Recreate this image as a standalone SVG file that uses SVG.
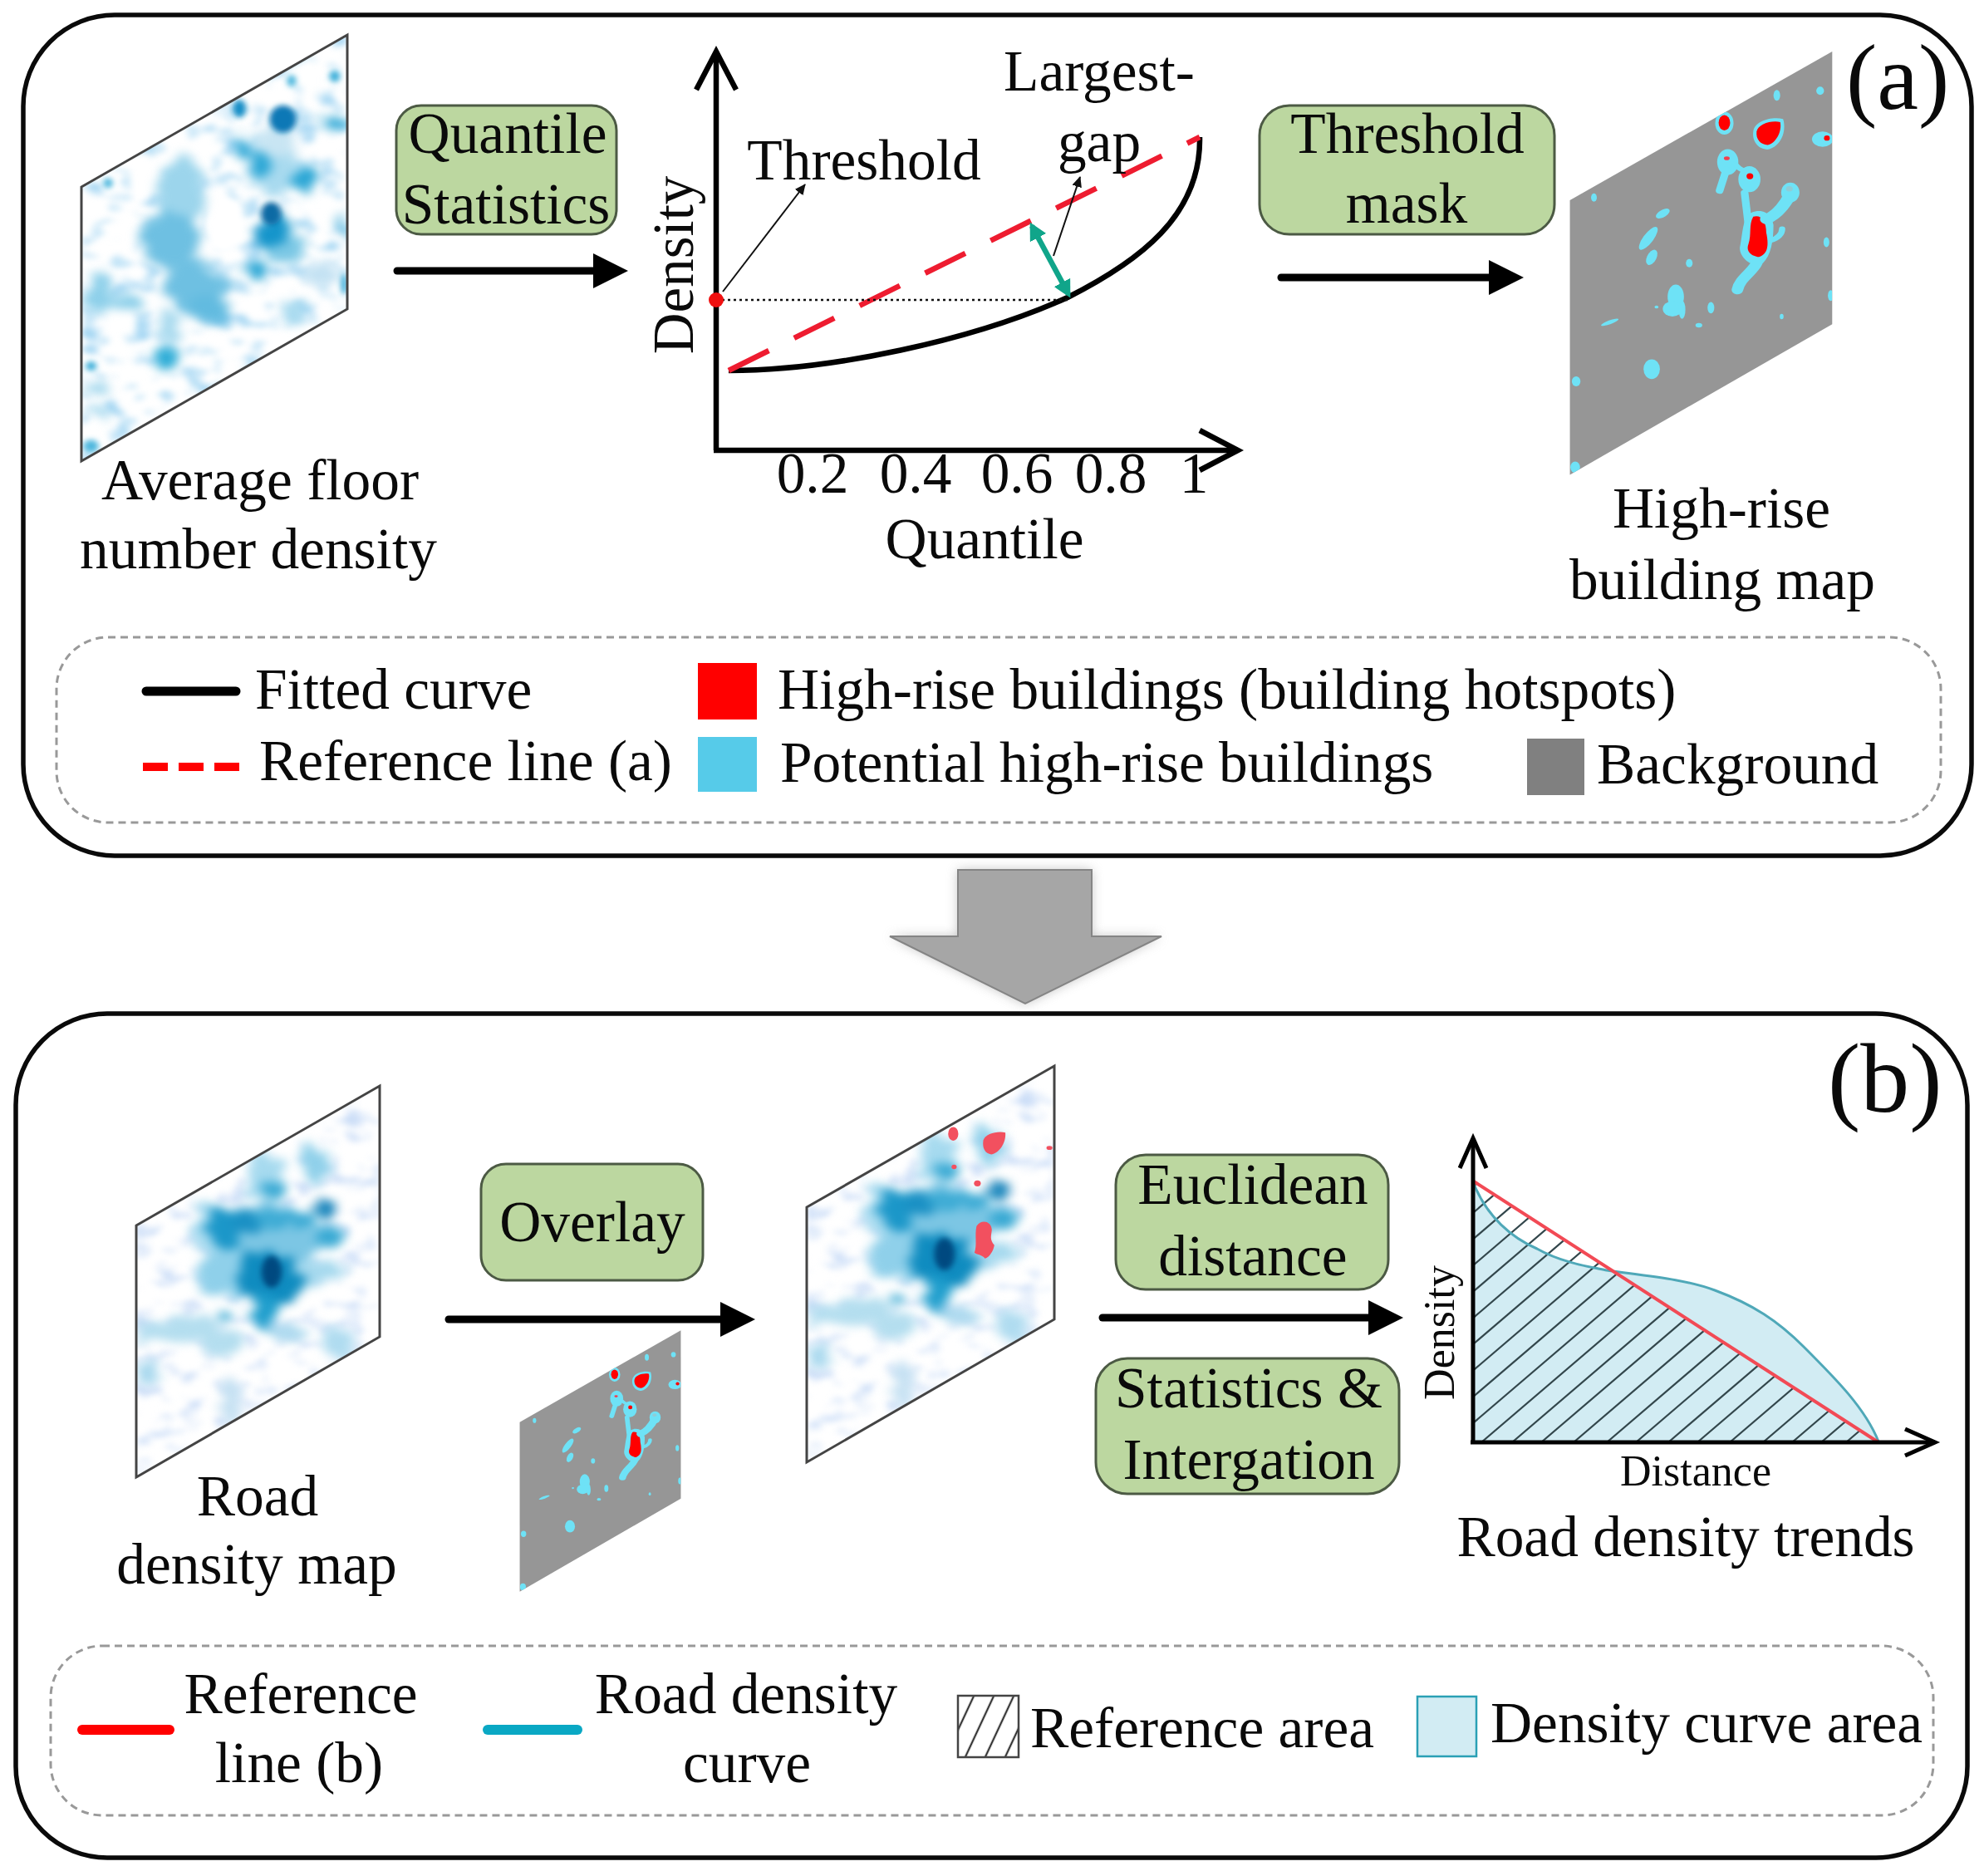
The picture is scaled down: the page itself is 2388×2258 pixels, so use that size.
<svg xmlns="http://www.w3.org/2000/svg" width="2388" height="2258" viewBox="0 0 2388 2258">
<style>
text{font-family:"Liberation Serif","Times New Roman",serif;font-size:69.4px;fill:#0a0a0a}
.m{text-anchor:middle}
.panel{fill:#fff;stroke:#0a0a0a;stroke-width:5.5}
.dash{fill:none;stroke:#999;stroke-width:3;stroke-dasharray:9 6}
.box{fill:#bcd7a0;stroke:#4c5a44;stroke-width:3}
.frame{fill:none;stroke:#444;stroke-width:3}
.flow{stroke:#000;stroke-width:9;stroke-linecap:round;fill:none;marker-end:url(#head)}
.axis{stroke:#000;stroke-width:6.5;fill:none}
.thin{stroke:#111;stroke-width:2;fill:none;marker-end:url(#thinhead)}
.cy{fill:#6ee2f6}.rd{fill:#f00}
.cys{stroke:#6ee2f6;fill:none;stroke-linecap:round}
</style>
<defs>
<filter id="b1" x="-15%" y="-15%" width="130%" height="130%" color-interpolation-filters="sRGB"><feTurbulence type="fractalNoise" baseFrequency=".022 .03" numOctaves="2" seed="7" result="n"/><feDisplacementMap in="SourceGraphic" in2="n" scale="60" xChannelSelector="R" yChannelSelector="G"/><feGaussianBlur stdDeviation="13"/></filter>
<filter id="b2" x="-30%" y="-30%" width="160%" height="160%"><feGaussianBlur stdDeviation="7"/></filter>
<filter id="mot1" x="0" y="0" width="100%" height="100%" color-interpolation-filters="sRGB"><feTurbulence type="fractalNoise" baseFrequency=".016 .022" numOctaves="2" seed="4"/><feColorMatrix values="0 0 0 0 .62  0 0 0 0 .83  0 0 0 0 .95  3.2 0 0 0 -1.62"/><feGaussianBlur stdDeviation="7"/></filter>
<filter id="mot2" x="0" y="0" width="100%" height="100%" color-interpolation-filters="sRGB"><feTurbulence type="fractalNoise" baseFrequency=".018 .024" numOctaves="2" seed="11"/><feColorMatrix values="0 0 0 0 .80  0 0 0 0 .87  0 0 0 0 .97  3 0 0 0 -1.5"/><feGaussianBlur stdDeviation="7"/></filter>
<filter id="soft" x="-30%" y="-30%" width="160%" height="160%"><feGaussianBlur stdDeviation="22"/></filter>
<marker id="head" markerUnits="userSpaceOnUse" markerWidth="44" markerHeight="44" refX="0" refY="21" orient="auto"><path d="M0 0L42 21L0 42z" fill="#000"/></marker>
<marker id="thinhead" markerUnits="userSpaceOnUse" markerWidth="16" markerHeight="16" refX="12" refY="6" orient="auto"><path d="M0 0L13 6L0 12z" fill="#111"/></marker>
<marker id="teal" markerUnits="userSpaceOnUse" markerWidth="26" markerHeight="26" refX="16" refY="11" orient="auto-start-reverse"><path d="M0 0L21 11L0 22z" fill="#10a58a"/></marker>
<marker id="openv" markerUnits="userSpaceOnUse" markerWidth="60" markerHeight="60" refX="48" refY="28" orient="auto"><path d="M2 4L48 28L2 52" fill="none" stroke="#000" stroke-width="6.5"/></marker>
<marker id="openb" markerUnits="userSpaceOnUse" markerWidth="50" markerHeight="40" refX="38" refY="18" orient="auto"><path d="M2 2L38 18L2 34" fill="none" stroke="#000" stroke-width="5"/></marker>
<pattern id="hatch" patternUnits="userSpaceOnUse" width="24" height="36" patternTransform="skewX(-25)"><path d="M12 0V36" stroke="#333" stroke-width="2.5"/></pattern>
<clipPath id="cm1"><polygon points="192,490 820,92 820,810 192,1208"/></clipPath>
<clipPath id="cr"><polygon points="125,468 700,103 700,760 125,1128"/></clipPath>
<clipPath id="chr"><polygon points="707,525 1252,135 1252,850 707,1245"/></clipPath>
<clipPath id="ctri"><polygon points="1774,1422 2261,1736 1774,1736"/></clipPath>
<g id="roadblobs" clip-path="url(#cr)">
<rect x="125" y="103" width="575" height="1025" filter="url(#mot2)"/>
<ellipse cx="640" cy="960" rx="90" ry="160" fill="#fff" filter="url(#soft)" />
<g filter="url(#b1)">
<ellipse cx="430" cy="500" rx="135" ry="90" fill="#7cc6e4"/>
<ellipse cx="340" cy="600" rx="72" ry="68" fill="#8fd0ea"/>
<ellipse cx="300" cy="480" rx="38" ry="70" fill="#a6daef"/>
<ellipse cx="540" cy="590" rx="88" ry="34" fill="#a6d9ee"/>
<ellipse cx="550" cy="310" rx="30" ry="48" fill="#8fd0ea"/>
<ellipse cx="430" cy="340" rx="48" ry="58" fill="#a6daef"/>
<ellipse cx="240" cy="740" rx="95" ry="34" fill="#b4deef"/>
<ellipse cx="330" cy="770" rx="50" ry="36" fill="#b4deef"/>
<ellipse cx="155" cy="860" rx="28" ry="34" fill="#a8d8ee"/>
<ellipse cx="600" cy="770" rx="40" ry="44" fill="#b0dcf0"/>
<ellipse cx="350" cy="930" rx="24" ry="58" fill="#c4e0f2"/>
<ellipse cx="480" cy="750" rx="44" ry="24" fill="#aedaef"/>
<ellipse cx="145" cy="750" rx="22" ry="26" fill="#b0dcef"/>
<ellipse cx="440" cy="610" rx="80" ry="72" fill="#0f8cc0" transform="rotate(35 440 610)"/>
<ellipse cx="430" cy="690" rx="32" ry="52" fill="#1f9ecd"/>
<ellipse cx="330" cy="470" rx="44" ry="52" fill="#1b97c9"/>
<ellipse cx="385" cy="465" rx="30" ry="34" fill="#1a90c4"/>
<ellipse cx="450" cy="375" rx="26" ry="30" fill="#3aaad4"/>
<ellipse cx="570" cy="425" rx="24" ry="27" fill="#1080b8"/>
<ellipse cx="580" cy="500" rx="30" ry="27" fill="#3aaad4"/>
<ellipse cx="480" cy="450" rx="80" ry="20" fill="#3aaad4"/>
<ellipse cx="335" cy="700" rx="16" ry="16" fill="#3aaad4"/>
</g><ellipse cx="445" cy="590" rx="24" ry="42" fill="#044a80" filter="url(#b2)"/></g>
<g id="hrmap">
<polygon points="707,525 1252,135 1252,850 707,1245" fill="#969696"/>
<g clip-path="url(#chr)">
<ellipse class="cy" cx="1137" cy="250" rx="7" ry="14"/><ellipse class="cy" cx="1227" cy="238" rx="8" ry="11"/>
<ellipse class="cy" cx="1028" cy="323" rx="19" ry="30"/><ellipse class="rd" cx="1028" cy="322" rx="12" ry="20"/>
<path class="cy" d="M1088 345C1090 318 1125 305 1150 312C1158 345 1145 385 1118 392C1098 392 1085 370 1088 345z"/>
<path class="rd" d="M1095 345C1098 325 1125 315 1144 320C1148 345 1135 375 1118 380C1103 380 1093 365 1095 345z"/>
<ellipse class="cy" cx="1232" cy="365" rx="22" ry="20"/><ellipse class="rd" cx="1241" cy="362" rx="6" ry="7"/>
<ellipse class="cy" cx="1035" cy="425" rx="22" ry="34"/><ellipse cx="1033" cy="415" rx="6" ry="5" fill="#f04050"/>
<path class="cys" stroke-width="16" d="M1032 445L1018 500"/>
<path class="cys" stroke-width="12" d="M1050 430C1060 445 1065 445 1080 455"/>
<ellipse class="cy" cx="1080" cy="470" rx="23" ry="34"/><ellipse class="rd" cx="1081" cy="462" rx="7" ry="8"/>
<path class="cys" stroke-width="16" d="M1070 505L1078 590"/>
<path class="cy" d="M1075 565C1095 545 1125 550 1130 590C1130 630 1125 670 1108 690C1090 705 1060 680 1060 650C1065 620 1065 590 1075 565z"/>
<path class="rd" d="M1088 568C1105 562 1115 580 1115 610C1120 640 1120 665 1100 674C1085 672 1072 660 1078 640C1085 615 1078 590 1088 568z"/>
<path class="cys" stroke-width="26" d="M1115 575C1135 565 1150 545 1165 510"/>
<ellipse class="cy" cx="1165" cy="505" rx="19" ry="26"/><ellipse cx="1163" cy="495" rx="7" ry="7" fill="#8fcdd8"/>
<path class="cys" stroke-width="13" d="M1125 630C1140 625 1148 612 1148 600"/>
<path class="cys" stroke-width="24" d="M1095 690C1085 715 1060 730 1055 760"/>
<ellipse class="cy" cx="757" cy="518" rx="6" ry="11"/>
<ellipse class="cy" cx="900" cy="560" rx="17" ry="9" transform="rotate(-40 900 560)"/>
<ellipse class="cy" cx="870" cy="625" rx="11" ry="34" transform="rotate(30 870 625)"/>
<ellipse class="cy" cx="877" cy="675" rx="10" ry="21" transform="rotate(20 877 675)"/>
<ellipse class="cy" cx="955" cy="690" rx="7" ry="11"/>
<ellipse class="cy" cx="927" cy="778" rx="17" ry="32"/><ellipse class="cy" cx="920" cy="810" rx="20" ry="20"/><ellipse class="cy" cx="940" cy="812" rx="7" ry="24"/><circle class="cy" cx="887" cy="805" r="4"/>
<ellipse class="cy" cx="1000" cy="807" rx="7" ry="15"/><ellipse class="cy" cx="975" cy="853" rx="7" ry="6"/>
<ellipse class="cy" cx="790" cy="845" rx="20" ry="5" transform="rotate(-25 790 845)"/>
<ellipse class="cy" cx="1240" cy="635" rx="6" ry="13"/><ellipse class="cy" cx="1249" cy="775" rx="6" ry="14"/>
<ellipse class="cy" cx="1147" cy="830" rx="4" ry="7"/><ellipse class="cy" cx="877" cy="968" rx="17" ry="26"/>
<ellipse class="cy" cx="720" cy="1000" rx="9" ry="13"/><ellipse class="cy" cx="718" cy="1225" rx="10" ry="15"/>
</g></g>
</defs>
<rect width="2388" height="2258" fill="#fff"/>

<g id="panel-a"><rect class="panel" x="28" y="18" width="2345" height="1012" rx="110"/><text x="2222" y="131" style="font-size:112px">(a)</text></g>
<g id="panel-b"><rect class="panel" x="19" y="1220" width="2349" height="1016" rx="110"/><text x="2200" y="1338" style="font-size:118px">(b)</text></g>

<g id="big-arrow">
<polygon points="1153,1047 1314,1047 1314,1127 1398,1127 1234,1208 1071,1127 1153,1127" fill="#999" opacity=".6" filter="url(#b2)"/>
<polygon points="1153,1047 1314,1047 1314,1127 1398,1127 1234,1208 1071,1127 1153,1127" fill="#a6a6a6" stroke="#858585" stroke-width="2"/>
</g>

<g id="floor-map">
<g transform="scale(.51,.459)"><g clip-path="url(#cm1)">
<rect x="192" y="92" width="628" height="1116" filter="url(#mot1)"/>
<ellipse cx="530" cy="590" rx="45" ry="70" fill="#fff" filter="url(#b2)"/>
<g filter="url(#b1)">
<ellipse cx="430" cy="500" rx="58" ry="85" fill="#9cd5ec"/>
<ellipse cx="400" cy="630" rx="72" ry="72" fill="#6ec0e2"/>
<ellipse cx="460" cy="750" rx="78" ry="62" fill="#6ec0e2"/>
<ellipse cx="500" cy="810" rx="48" ry="38" fill="#62bbe0"/>
<ellipse cx="640" cy="440" rx="62" ry="72" fill="#a8daef"/>
<ellipse cx="230" cy="770" rx="34" ry="44" fill="#8ed0ea"/>
<ellipse cx="290" cy="800" rx="42" ry="18" fill="#8ed0ea"/>
<ellipse cx="400" cy="860" rx="24" ry="48" fill="#a6d9ee"/>
<ellipse cx="670" cy="640" rx="55" ry="48" fill="#7cc8e5"/>
<ellipse cx="690" cy="820" rx="34" ry="34" fill="#a8daef"/>
<ellipse cx="760" cy="720" rx="42" ry="32" fill="#c4e2f3"/>
<ellipse cx="650" cy="370" rx="52" ry="42" fill="#c8e5f3"/>
<ellipse cx="230" cy="1020" rx="34" ry="14" fill="#a6d9ee"/>
<ellipse cx="240" cy="1075" rx="30" ry="19" fill="#9ad4ec"/>
<ellipse cx="790" cy="325" rx="34" ry="20" fill="#2aa6d5"/>
<ellipse cx="810" cy="595" rx="11" ry="30" fill="#6ec0e2"/>
<ellipse cx="600" cy="705" rx="20" ry="26" fill="#2aa6d5"/>
<ellipse cx="390" cy="935" rx="26" ry="36" fill="#2fadd7"/>
<ellipse cx="572" cy="385" rx="22" ry="32" fill="#2aa6d5"/>
<ellipse cx="622" cy="430" rx="24" ry="28" fill="#2aa6d5"/>
<ellipse cx="720" cy="470" rx="27" ry="38" fill="#2aa6d5"/>
<ellipse cx="645" cy="610" rx="36" ry="44" fill="#1595cb"/>
</g>
<g filter="url(#b2)">
<ellipse cx="215" cy="960" rx="13" ry="13" fill="#3fb0da"/>
<ellipse cx="215" cy="1170" rx="18" ry="17" fill="#4fb8de"/>
<ellipse cx="255" cy="480" rx="11" ry="14" fill="#4fb8de"/>
<ellipse cx="688" cy="212" rx="11" ry="16" fill="#4fb8de"/>
<ellipse cx="790" cy="200" rx="13" ry="16" fill="#3fb0da"/>
<ellipse cx="812" cy="745" rx="7" ry="28" fill="#2aa6d5"/>
<ellipse cx="565" cy="285" rx="16" ry="24" fill="#168fc7"/>
<ellipse cx="640" cy="560" rx="24" ry="30" fill="#0a6aa4"/>
<ellipse cx="668" cy="312" rx="32" ry="36" fill="#0a78b6"/>
</g>
</g></g>
<polygon class="frame" points="98,225 418,42 418,372 98,555"/>
<text class="m" x="313" y="601">Average floor</text>
<text class="m" x="311" y="684">number density</text>
</g>

<g id="quantile-box"><rect class="box" x="477" y="127" width="265" height="155" rx="30"/>
<text class="m" x="611" y="184">Quantile</text><text class="m" x="609" y="269">Statistics</text></g>

<g id="quantile-chart">
<path d="M877 446C1000 446 1170 410 1285 358C1370 315 1446 260 1444 165" fill="none" stroke="#000" stroke-width="6.5"/>
<path d="M877 446L1444 165" fill="none" stroke="#ee1c30" stroke-width="6.5" stroke-dasharray="54 34"/>
<path d="M862 361H1285" stroke="#111" stroke-width="2.5" stroke-dasharray="3 4"/>
<path class="axis" d="M862 542V62" marker-end="url(#openv)"/>
<path class="axis" d="M859 542H1490" marker-end="url(#openv)"/>
<circle cx="862" cy="361" r="9" fill="#f01010"/>
<path d="M1242 272L1286 354" stroke="#10a58a" stroke-width="6.5" fill="none" marker-start="url(#teal)" marker-end="url(#teal)"/>
<text class="m" x="1040" y="216">Threshold</text>
<text class="m" x="1323" y="109">Largest-</text>
<text class="m" x="1323" y="194">gap</text>
<text class="m" transform="translate(834 319) rotate(-90)" style="font-size:69px">Density</text>
<text class="m" x="978" y="593">0.2</text><text class="m" x="1102" y="593">0.4</text><text class="m" x="1224" y="593">0.6</text><text class="m" x="1337" y="593">0.8</text><text class="m" x="1437" y="593">1</text>
<text class="m" x="1185" y="672">Quantile</text>
</g>

<g id="threshold-box"><rect class="box" x="1516" y="127" width="355" height="155" rx="36"/>
<text class="m" x="1694" y="184">Threshold</text><text class="m" x="1693" y="268">mask</text></g>

<g id="highrise-map">
<use href="#hrmap" transform="translate(1480,0) scale(.5793,.459)"/>
<text class="m" x="2072" y="635">High-rise</text>
<text class="m" x="2073" y="721">building map</text>
</g>

<g id="legend-a">
<rect class="dash" x="68" y="767" width="2268" height="223" rx="62"/>
<path d="M176 832H284" stroke="#000" stroke-width="11" stroke-linecap="round"/>
<path d="M172 923H288" stroke="#f00" stroke-width="10" stroke-dasharray="30 13"/>
<rect x="840" y="798" width="71" height="68" fill="#f00"/>
<rect x="840" y="887" width="71" height="66" fill="#56cbe9"/>
<rect x="1838" y="889" width="69" height="68" fill="#808080"/>
<text x="307" y="853">Fitted curve</text>
<text x="312" y="939">Reference line (a)</text>
<text x="936" y="853">High-rise buildings (building hotspots)</text>
<text x="939" y="941">Potential high-rise buildings</text>
<text x="1922" y="943">Background</text>
</g>

<g id="road-map">
<use href="#roadblobs" transform="translate(100,1260) scale(.51,.459)"/>
<polygon class="frame" points="164,1475 457,1307 457,1609 164,1778"/>
<text class="m" x="310" y="1824">Road</text>
<text class="m" x="309" y="1906">density map</text>
</g>

<g id="overlay-box"><rect class="box" x="579" y="1401" width="267" height="140" rx="30"/><text class="m" x="713" y="1494">Overlay</text></g>

<g id="mini-map"><use href="#hrmap" transform="translate(374,1563) scale(.3558,.2833)"/></g>

<g id="overlay-map">
<use href="#roadblobs" transform="translate(906.8,1235.4) scale(.517,.4645)"/>
<g transform="translate(900,1260) scale(.51,.459)" fill="#f2505f">
<ellipse cx="485" cy="228" rx="12" ry="18"/>
<path d="M556 245C560 228 590 220 608 225C610 250 595 278 575 282C560 280 553 265 556 245z"/>
<circle cx="487" cy="315" r="6"/><circle cx="542" cy="358" r="8"/><ellipse cx="712" cy="265" rx="7" ry="5"/>
<path d="M540 470C550 452 575 455 576 480C575 495 570 505 582 520C580 535 570 552 560 555C552 545 540 545 535 540C542 520 535 495 540 470z"/>
</g>
<polygon class="frame" points="971,1453 1269,1283 1269,1588 971,1760"/>
</g>

<g id="euclid-box"><rect class="box" x="1343" y="1390" width="328" height="162" rx="36"/>
<text class="m" x="1508" y="1449">Euclidean</text><text class="m" x="1508" y="1535">distance</text></g>
<g id="stats-box"><rect class="box" x="1319" y="1635" width="365" height="163" rx="38"/>
<text class="m" x="1503" y="1694">Statistics &amp;</text><text class="m" x="1503" y="1780">Intergation</text></g>

<g id="road-chart">
<path d="M1774 1425C1790 1465 1820 1490 1850 1503C1880 1520 1915 1525 1934 1529C1985 1536 2030 1540 2064 1553C2110 1570 2140 1590 2171 1621C2210 1660 2245 1695 2261 1735H1774z" fill="#d2ecf3"/>
<g clip-path="url(#ctri)"><path d="M1413 1736l400 -342M1450 1736l400 -342M1487 1736l400 -342M1524 1736l400 -342M1561 1736l400 -342M1598 1736l400 -342M1635 1736l400 -342M1672 1736l400 -342M1709 1736l400 -342M1746 1736l400 -342M1783 1736l400 -342M1820 1736l400 -342M1855 1736l400 -342M1894 1736l400 -342M1934 1736l400 -342M1969 1736l400 -342M2008 1736l400 -342M2043 1736l400 -342M2082 1736l400 -342M2122 1736l400 -342M2157 1736l400 -342M2192 1736l400 -342M2222 1736l400 -342" stroke="#33474c" stroke-width="2.2" fill="none"/></g>
<path d="M1774 1425C1790 1465 1820 1490 1850 1503C1880 1520 1915 1525 1934 1529C1985 1536 2030 1540 2064 1553C2110 1570 2140 1590 2171 1621C2210 1660 2245 1695 2261 1735" fill="none" stroke="#4fa8b8" stroke-width="3"/>
<path d="M1774 1422L2261 1736" stroke="#f24a55" stroke-width="4" fill="none"/>
<path d="M1773 1736V1370" fill="none" stroke="#000" stroke-width="5" marker-end="url(#openb)"/>
<path d="M1770 1736H2329" fill="none" stroke="#000" stroke-width="5" marker-end="url(#openb)"/>
<text class="m" transform="translate(1750 1604) rotate(-90)" style="font-size:52px">Density</text>
<text class="m" x="2041" y="1788" style="font-size:52px">Distance</text>
<text class="m" x="2029" y="1873">Road density trends</text>
</g>

<g id="legend-b">
<rect class="dash" x="61" y="1981" width="2266" height="204" rx="62"/>
<path d="M99 2082H204" stroke="#f00" stroke-width="12" stroke-linecap="round"/>
<path d="M587 2082H695" stroke="#0aa8c4" stroke-width="12" stroke-linecap="round"/>
<rect x="1153" y="2041" width="73" height="74" fill="url(#hatch)" stroke="#444" stroke-width="2.5"/>
<rect x="1706" y="2042" width="71" height="72" fill="#d2ecf3" stroke="#2aa0b5" stroke-width="2.5"/>
<text class="m" x="362" y="2062">Reference</text><text class="m" x="360" y="2145">line (b)</text>
<text class="m" x="898" y="2062">Road density</text><text class="m" x="899" y="2145">curve</text>
<text x="1240" y="2103">Reference area</text>
<text x="1794" y="2097">Density curve area</text>
</g>

<g id="connectors">
<path class="flow" d="M478 326H714"/>
<path class="flow" d="M1542 334H1792"/>
<path class="flow" d="M540 1588H867"/>
<path class="flow" d="M1327 1586H1647"/>
<path class="thin" d="M870 351L969 222"/>
<path class="thin" d="M1268 308L1300 213"/>
</g>
</svg>
